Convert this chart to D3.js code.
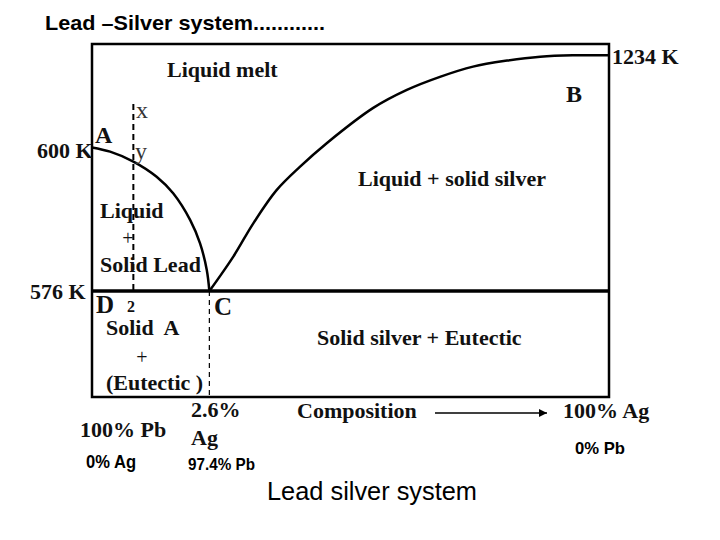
<!DOCTYPE html>
<html>
<head>
<meta charset="utf-8">
<script src="https://cdn.jsdelivr.net/npm/d3@7"></script>
<style>
  body { margin: 0; background: #fff; }
  text { white-space: pre; }
</style>
</head>
<body>
<div id="chart"></div>
<script>
// schematic diagram units: composition axis 0..100 (left = Pb, right = Ag), temperature axis 0..100
let liquidusA = [[0, 70.7], [3.5, 69.5], [8.0, 66.7], [12.5, 62.4], [15.7, 57.7], [19.0, 50.1], [20.9, 43.5], [22.2, 36.0], [22.7, 30]];
let liquidusB = [[22.7, 30], [27.3, 39.7], [31.2, 49.2], [35.7, 58.6], [40.2, 65.2], [45.4, 71.9], [54.4, 81.9], [60.9, 87.0], [67.3, 90.7], [73.7, 93.6], [80.3, 95.3], [86.7, 96.4], [93.0, 96.8], [100, 96.8]];
let eutecticT = 30;
let eutecticX = 22.7;
let coolingX = 8.0;
let coolingTop = 83;
let tempLabels = ["600 K", "576 K", "1234 K"];

let width = 720, height = 540;
let plot = {left: 92, right: 609, top: 44, bottom: 397};

let svg = d3.select("#chart")
    .append("svg")
    .attr("width", width)
    .attr("height", height);

let x = d3.scaleLinear().domain([0, 100]).range([plot.left, plot.right]);
let y = d3.scaleLinear().domain([0, 100]).range([plot.bottom, plot.top]);

const serif = "'Liberation Serif', 'Times New Roman', serif";
const sans = "'Liberation Sans', Arial, sans-serif";

// frame
svg.append("rect")
    .attr("x", x(0)).attr("y", y(100))
    .attr("width", x(100) - x(0)).attr("height", y(0) - y(100))
    .attr("fill", "none").attr("stroke", "#000").attr("stroke-width", 2.5);

// eutectic line
svg.append("line")
    .attr("x1", x(0)).attr("x2", x(100))
    .attr("y1", y(eutecticT)).attr("y2", y(eutecticT))
    .attr("stroke", "#000").attr("stroke-width", 3.5);

let line = d3.line().x(d => x(d[0])).y(d => y(d[1])).curve(d3.curveCatmullRom.alpha(0.5));

svg.append("path").datum(liquidusA)
    .attr("d", line).attr("fill", "none")
    .attr("stroke", "#000").attr("stroke-width", 2.5);

svg.append("path").datum(liquidusB)
    .attr("d", line).attr("fill", "none")
    .attr("stroke", "#000").attr("stroke-width", 2.5);

// cooling path x-y and eutectic composition
svg.append("line")
    .attr("x1", x(coolingX)).attr("x2", x(coolingX))
    .attr("y1", y(coolingTop)).attr("y2", y(eutecticT))
    .attr("stroke", "#000").attr("stroke-width", 2)
    .attr("stroke-dasharray", "6,4");

svg.append("line")
    .attr("x1", x(eutecticX)).attr("x2", x(eutecticX))
    .attr("y1", y(eutecticT)).attr("y2", y(0))
    .attr("stroke", "#000").attr("stroke-width", 1.2)
    .attr("stroke-dasharray", "5,4");

// composition arrow
svg.append("defs").append("marker")
    .attr("id", "arrow")
    .attr("viewBox", "0 0 10 10")
    .attr("refX", 10).attr("refY", 5)
    .attr("markerWidth", 8).attr("markerHeight", 8)
    .attr("markerUnits", "userSpaceOnUse")
    .attr("orient", "auto")
    .append("path").attr("d", "M0,0L10,5L0,10z").attr("fill", "#000");

svg.append("line")
    .attr("x1", 435).attr("x2", 547)
    .attr("y1", 413).attr("y2", 413)
    .attr("stroke", "#000").attr("stroke-width", 1.5)
    .attr("marker-end", "url(#arrow)");

function label(t, px, py, size, opts) {
    opts = opts || {};
    let el = svg.append("text")
        .attr("x", px).attr("y", py)
        .attr("font-family", opts.family || serif)
        .attr("font-weight", opts.weight || "bold")
        .attr("font-size", size)
        .attr("fill", opts.fill || "#111")
        .attr("text-anchor", opts.anchor || "start")
        .text(t);
    if (opts.len) el.attr("textLength", opts.len).attr("lengthAdjust", "spacingAndGlyphs");
    return el;
}

label("Lead \u2013Silver system............", 45, 30, 21, {family: sans, fill: "#000", len: 280});

label("Liquid melt", 167, 77, 22);
label("x", 136, 118, 24, {weight: "normal", fill: "#333"});
label("y", 135, 159, 24, {weight: "normal", fill: "#333"});
label("A", 95, 143, 24);
label(tempLabels[0], 37, 158, 22);
label("Liquid", 100, 218, 22);
label("+", 128, 245, 20, {weight: "normal", anchor: "middle"});
label("Solid Lead", 100, 272, 22);
label(tempLabels[1], 30, 299, 22);
label("D", 96, 313, 25);
label("2", 127, 312, 16);
label("C", 214, 315, 25);
label("Solid  A", 106, 335, 22);
label("+", 142, 364, 20, {weight: "normal", anchor: "middle"});
label("(Eutectic )", 106, 390, 22);
label("Solid silver + Eutectic", 317, 345, 22);
label("Liquid + solid silver", 358, 186, 22);
label("B", 566, 102, 24);
label(tempLabels[2], 612, 64, 22);

label("2.6%", 191, 417, 22);
label("100% Pb", 80, 437, 22);
label("Ag", 191, 445, 22);
label("Composition", 297, 418, 22);
label("100% Ag", 563, 418, 22);

label("0% Ag", 86, 468, 18, {family: sans, fill: "#000", len: 50});
label("97.4% Pb", 188, 470, 17, {family: sans, fill: "#000", len: 67});
label("0% Pb", 575, 454, 17, {family: sans, fill: "#000", len: 50});

label("Lead silver system", 267, 500, 25, {family: sans, weight: "normal", fill: "#000", len: 210});
</script>
</body>
</html>
